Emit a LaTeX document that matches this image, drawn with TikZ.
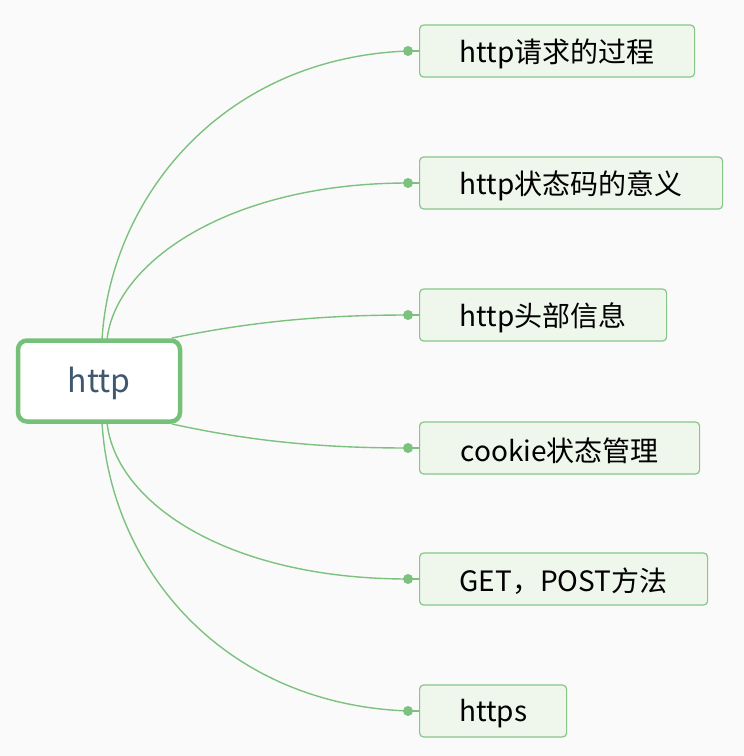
\documentclass[tikz,border=0pt]{standalone}
\usepackage{fontspec}
\setmainfont{Noto Sans CJK SC}
\definecolor{bg}{HTML}{FAFAFA}
\definecolor{lnk}{HTML}{7CC27E}
\definecolor{rootb}{HTML}{76C17A}
\definecolor{roott}{HTML}{3F5870}
\definecolor{chf}{HTML}{EFF6EC}
\definecolor{chb}{HTML}{86C789}
\newcommand{\lowr}[1]{\raisebox{-2.5pt}[\height][\depth]{#1}}
\begin{document}
\begin{tikzpicture}[x=1pt,y=-1pt,
  rootbox/.style={draw=rootb,line width=4.5pt,fill=white,rounded corners=9pt,minimum width=162pt,minimum height=81pt,inner sep=0pt,text=roott,font=\fontsize{32}{38}\selectfont},
  child/.style={draw=chb,line width=1.2pt,fill=chf,rounded corners=4pt,minimum height=52pt,inner sep=0pt,anchor=west,text=black,font=\fontsize{28}{33}\selectfont},
  link/.style={draw=lnk,line width=1.4pt},
  dotc/.style={circle,fill=lnk,inner sep=0pt,minimum size=10pt}]
\fill[bg] (0,0) rectangle (744,756);
\useasboundingbox (0,0) rectangle (744,756);
\node[rootbox] (root) at (99,381) {\lowr{http}};
\node[child,minimum width=275pt] (c1) at (419,51) {\lowr{http请求的过程}};
\node[child,minimum width=303pt] (c2) at (419,183) {\lowr{http状态码的意义}};
\node[child,minimum width=247pt] (c3) at (419,315) {\lowr{http头部信息}};
\node[child,minimum width=280pt] (c4) at (419,448) {\lowr{cookie状态管理}};
\node[child,minimum width=288pt] (c5) at (419,579) {\lowr{GET，POST方法}};
\node[child,minimum width=147pt] (c6) at (419,711) {\lowr{https}};
\foreach \i/\y in {1/51,2/183,3/315,4/448,5/579,6/711}{
  \node[dotc] (d\i) at (408,\y) {};
  \draw[link] (d\i.center) -- (c\i.west);
}
\coordinate (s1) at (102,340);
\coordinate (s2) at (107,340);
\coordinate (s3) at (172,338);
\coordinate (s4) at (172,424);
\coordinate (s5) at (107,422);
\coordinate (s6) at (102,422);
\draw[link] (s1) .. controls (110,200) and (220,58) .. (d1.center);
\draw[link] (s2) .. controls (115,263) and (228,183) .. (d2.center);
\draw[link] (s3) .. controls (250,322) and (320,315) .. (d3.center);
\draw[link] (s4) .. controls (250,441) and (320,448) .. (d4.center);
\draw[link] (s5) .. controls (115,503) and (228,579) .. (d5.center);
\draw[link] (s6) .. controls (110,565) and (220,704) .. (d6.center);
\end{tikzpicture}
\end{document}
